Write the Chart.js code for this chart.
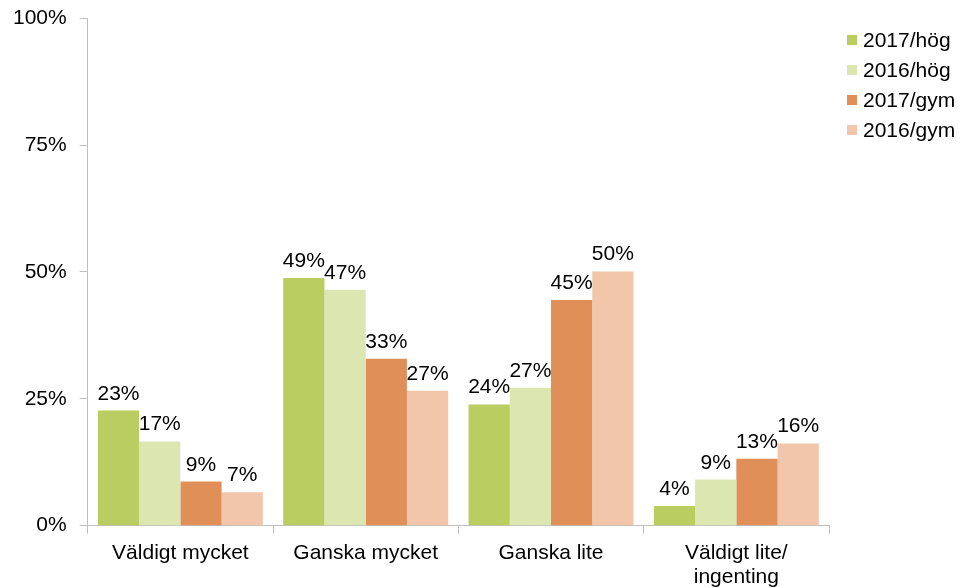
<!DOCTYPE html>
<html>
<head>
<meta charset="utf-8">
<script src="https://cdn.jsdelivr.net/npm/chart.js@4"></script>
<style>
html,body{margin:0;padding:0;background:#fff;}
#wrap{width:960px;height:588px;position:relative;}
</style>
</head>
<body>
<div id="wrap"><canvas id="c" width="960" height="588"></canvas></div>
<script>
const categories = ['Väldigt mycket', 'Ganska mycket', 'Ganska lite', ['Väldigt lite/', 'ingenting']];
const seriesNames = ['2017/hög', '2016/hög', '2017/gym', '2016/gym'];
const hog2017 = [22.7, 48.8, 23.9, 3.9];
const hog2016 = [16.6, 46.5, 27.2, 9.1];
const gym2017 = [8.7, 32.9, 44.5, 13.2];
const gym2016 = [6.6, 26.6, 50.1, 16.2];
const labels2017hog = ['23%', '49%', '24%', '4%'];
const labels2016hog = ['17%', '47%', '27%', '9%'];
const labels2017gym = ['9%', '33%', '45%', '13%'];
const labels2016gym = ['7%', '27%', '50%', '16%'];
const yTicks = [0, 25, 50, 75, 100];
const colors = ['#BACD60', '#DCE6B1', '#E08F58', '#F2C6AA'];

const valueLabels = [labels2017hog, labels2016hog, labels2017gym, labels2016gym];
const FONT = '"Liberation Sans", Arial, sans-serif';

const labelPlugin = {
  id: 'valueLabels',
  afterDatasetsDraw(chart) {
    const ctx = chart.ctx;
    ctx.save();
    ctx.font = '21px ' + FONT;
    ctx.fillStyle = '#000';
    ctx.textAlign = 'center';
    ctx.textBaseline = 'alphabetic';
    chart.data.datasets.forEach((ds, i) => {
      const meta = chart.getDatasetMeta(i);
      meta.data.forEach((bar, j) => {
        ctx.fillText(valueLabels[i][j], bar.x, bar.y - 11);
      });
    });
    ctx.restore();
  }
};

const legendPlugin = {
  id: 'sideLegend',
  afterDraw(chart) {
    const ctx = chart.ctx;
    ctx.save();
    ctx.font = '21px ' + FONT;
    ctx.textAlign = 'left';
    ctx.textBaseline = 'middle';
    chart.data.datasets.forEach((ds, i) => {
      const cy = 40 + i * 30;
      ctx.fillStyle = ds.backgroundColor;
      ctx.fillRect(847, cy - 5, 10, 10);
      ctx.fillStyle = '#000';
      ctx.fillText(ds.label, 863, cy + 1);
    });
    ctx.restore();
  }
};

Chart.defaults.font.family = FONT;
Chart.defaults.font.size = 21;
Chart.defaults.color = '#000';

new Chart(document.getElementById('c'), {
  type: 'bar',
  data: {
    labels: categories,
    datasets: [
      { label: seriesNames[0], data: hog2017, backgroundColor: colors[0] },
      { label: seriesNames[1], data: hog2016, backgroundColor: colors[1] },
      { label: seriesNames[2], data: gym2017, backgroundColor: colors[2] },
      { label: seriesNames[3], data: gym2016, backgroundColor: colors[3] }
    ]
  },
  options: {
    responsive: false,
    animation: false,
    devicePixelRatio: 1,
    layout: { padding: { left: 0, top: 0, right: 131, bottom: -8 } },
    datasets: { bar: { categoryPercentage: 0.89, barPercentage: 1.0, borderWidth: 0 } },
    plugins: {
      legend: { display: false },
      tooltip: { enabled: false }
    },
    scales: {
      x: {
        grid: { offset: true, drawOnChartArea: false, drawTicks: true, tickLength: 8, color: '#BFBFBF' },
        border: { color: '#BFBFBF' },
        ticks: { padding: 7, maxRotation: 0, autoSkip: false, font: { size: 21, lineHeight: 1.15 } }
      },
      y: {
        min: 0, max: 100,
        afterBuildTicks(axis) { axis.ticks = yTicks.map(v => ({ value: v })); },
        grid: { drawOnChartArea: false, drawTicks: true, tickLength: 8, color: '#BFBFBF' },
        border: { color: '#BFBFBF' },
        ticks: { padding: 13, callback: v => v + '%', font: { size: 21, lineHeight: 0.5 } }
      }
    }
  },
  plugins: [labelPlugin, legendPlugin]
});
</script>
</body>
</html>
